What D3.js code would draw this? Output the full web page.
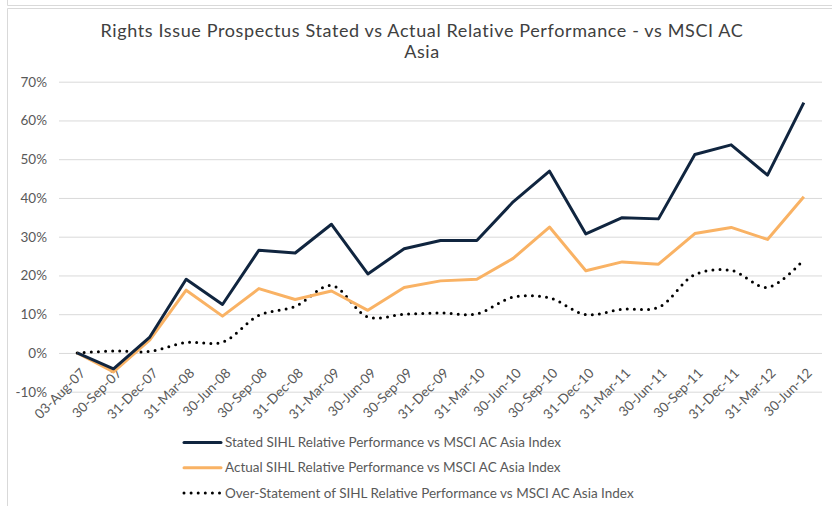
<!DOCTYPE html>
<html>
<head>
<meta charset="utf-8">
<script src="https://cdn.jsdelivr.net/npm/d3@7"></script>
<style>
  body { margin: 0; background: #fff; }
  svg { font-family: Lato, "Open Sans", sans-serif; }
</style>
</head>
<body>
<div class="chart"></div>
<script>
// quarter-end dates on the x axis
var dates = ["03-Aug-07", "30-Sep-07", "31-Dec-07", "31-Mar-08", "30-Jun-08", "30-Sep-08",
             "31-Dec-08", "31-Mar-09", "30-Jun-09", "30-Sep-09", "31-Dec-09", "31-Mar-10",
             "30-Jun-10", "30-Sep-10", "31-Dec-10", "31-Mar-11", "30-Jun-11", "30-Sep-11",
             "31-Dec-11", "31-Mar-12", "30-Jun-12"];

// values in percent
var stated = [0, -4.1, 4.1, 19.0, 12.5, 26.5, 25.8, 33.2, 20.4, 26.9, 29.0, 29.0,
              39.0, 46.9, 30.7, 34.9, 34.6, 51.2, 53.7, 45.9, 64.6];
var actual = [0, -4.9, 3.4, 16.2, 9.5, 16.6, 13.8, 16.0, 11.0, 16.9, 18.6, 19.0,
              24.4, 32.5, 21.2, 23.5, 22.9, 30.8, 32.4, 29.3, 40.3];
var overStatement = [0, 0.5, 0.4, 2.7, 2.8, 9.7, 12.0, 17.4, 9.3, 10.0, 10.3, 10.1,
                     14.4, 14.2, 9.9, 11.3, 11.8, 20.2, 21.3, 16.9, 24.1];

var yTicks = [-10, 0, 10, 20, 30, 40, 50, 60, 70];

var seriesNames = ["Stated SIHL Relative Performance vs MSCI AC Asia Index",
                   "Actual SIHL Relative Performance vs MSCI AC Asia Index",
                   "Over-Statement of SIHL Relative Performance vs MSCI AC Asia Index"];

var width = 832, height = 506,
    margin = {top: 82, right: 10, bottom: 114, left: 59};

var svg = d3.select("div.chart").append("svg")
    .attr("width", width)
    .attr("height", height);

// frame of the box above and of the chart area
svg.append("path")
    .attr("d", "M7.5,0V5.5H832")
    .attr("fill", "none")
    .attr("stroke", "#d9d9d9");
svg.append("path")
    .attr("d", "M7.5,506V8.5H832")
    .attr("fill", "none")
    .attr("stroke", "#d9d9d9");

// title
var title = svg.append("text")
    .attr("text-anchor", "middle")
    .attr("fill", "#404040")
    .style("font-size", "18px")
    .style("letter-spacing", "0.62px");
title.append("tspan").attr("x", 422).attr("y", 37)
    .text("Rights Issue Prospectus Stated vs Actual Relative Performance - vs MSCI AC");
title.append("tspan").attr("x", 422).attr("y", 58).text("Asia");

var x = d3.scaleBand()
    .domain(dates)
    .range([margin.left, 822]);

var y = d3.scaleLinear()
    .domain([-10, 70])
    .range([391.7, 81.7]);

var g = svg.append("g");

// gridlines + y labels
g.append("g")
    .attr("transform", "translate(" + margin.left + ",0)")
    .call(d3.axisLeft(y).tickValues(yTicks)
            .tickSize(-(822 - margin.left))
            .tickFormat(function(d) { return d + "%"; }))
    .call(function(a) { a.select(".domain").remove(); })
    .call(function(a) {
      a.selectAll("line").attr("stroke", "#d9d9d9").attr("stroke-width", 1);
      a.selectAll("text")
        .attr("x", -12)
        .attr("fill", "#595959")
        .style("font-size", "13.5px")
        .style("font-family", "Lato, sans-serif");
    });

// x labels, rotated
g.append("g")
    .attr("transform", "translate(0," + y(0) + ")")
    .call(d3.axisBottom(x).tickSize(0))
    .call(function(a) { a.select(".domain").remove(); })
    .call(function(a) {
      a.selectAll("text")
        .attr("fill", "#595959")
        .style("font-size", "13.5px")
        .style("font-family", "Lato, sans-serif")
        .attr("text-anchor", "end")
        .attr("x", 0).attr("y", 0).attr("dy", 0)
        .attr("transform", "translate(9,21) rotate(-45)");
    });

var xc = function(d, i) { return x(dates[i]) + x.bandwidth() / 2; };

var line = d3.line()
    .x(xc)
    .y(function(d) { return y(d); });

var smooth = d3.line()
    .x(xc)
    .y(function(d) { return y(d); })
    .curve(d3.curveCatmullRom.alpha(0.5));

g.append("path")
    .datum(overStatement)
    .attr("fill", "none")
    .attr("stroke", "#000")
    .attr("stroke-width", 3)
    .attr("stroke-linecap", "round")
    .attr("stroke-dasharray", "0 7.1")
    .attr("d", smooth);

g.append("path")
    .datum(actual)
    .attr("fill", "none")
    .attr("stroke", "#f9b264")
    .attr("stroke-width", 3)
    .attr("stroke-linejoin", "round")
    .attr("d", line);

g.append("path")
    .datum(stated)
    .attr("fill", "none")
    .attr("stroke", "#10253f")
    .attr("stroke-width", 3)
    .attr("stroke-linejoin", "round")
    .attr("d", line);

// legend
var legendStyles = [
  {stroke: "#10253f", dash: null, cap: "round"},
  {stroke: "#f9b264", dash: null, cap: "round"},
  {stroke: "#000", dash: "0 7.1", cap: "round"}
];

var legend = svg.append("g");
seriesNames.forEach(function(name, i) {
  var ly = 442.5 + i * 25.2;
  legend.append("line")
      .attr("x1", 184).attr("x2", 221)
      .attr("y1", ly).attr("y2", ly)
      .attr("stroke", legendStyles[i].stroke)
      .attr("stroke-width", 3)
      .attr("stroke-linecap", legendStyles[i].cap)
      .attr("stroke-dasharray", legendStyles[i].dash);
  legend.append("text")
      .attr("x", 225).attr("y", ly)
      .attr("dy", "0.35em")
      .attr("fill", "#595959")
      .style("font-size", "13.5px")
      .text(name);
});
</script>
</body>
</html>
